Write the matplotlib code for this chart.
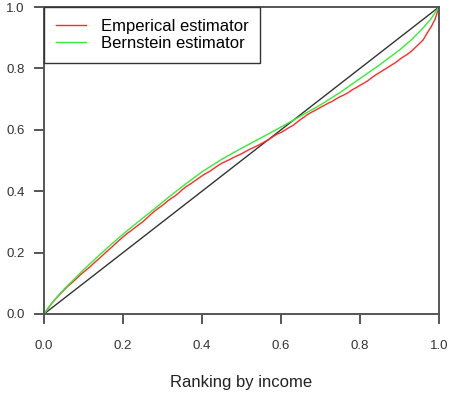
import matplotlib
matplotlib.use("Agg")
import matplotlib.pyplot as plt
import numpy as np

plt.rcParams['font.family'] = ['Liberation Sans', 'DejaVu Sans']

# empirical Lorenz-type estimator, on a 0.01 grid of rankings
emp_x = np.arange(101) / 100
emp_y = [0.000, 0.018, 0.035, 0.050, 0.064, 0.077, 0.090, 0.101, 0.113, 0.125,
         0.136, 0.147, 0.158, 0.170, 0.181, 0.193, 0.205, 0.216, 0.228, 0.240,
         0.251, 0.262, 0.271, 0.281, 0.291, 0.300, 0.312, 0.324, 0.335, 0.345,
         0.354, 0.365, 0.375, 0.383, 0.393, 0.405, 0.415, 0.423, 0.432, 0.441,
         0.450, 0.458, 0.465, 0.474, 0.483, 0.491, 0.497, 0.503, 0.510, 0.516,
         0.522, 0.529, 0.536, 0.542, 0.548, 0.555, 0.562, 0.569, 0.578, 0.586,
         0.591, 0.599, 0.607, 0.614, 0.624, 0.634, 0.643, 0.652, 0.659, 0.666,
         0.673, 0.680, 0.687, 0.693, 0.701, 0.708, 0.714, 0.721, 0.730, 0.737,
         0.745, 0.752, 0.760, 0.770, 0.779, 0.787, 0.795, 0.803, 0.811, 0.819,
         0.829, 0.838, 0.846, 0.856, 0.868, 0.880, 0.893, 0.915, 0.935, 0.960,
         1.000]

# smooth Bernstein estimator
bern_x = [0.00, 0.02, 0.04, 0.06, 0.08, 0.10, 0.12, 0.16, 0.20, 0.24, 0.28,
          0.32, 0.36, 0.40, 0.45, 0.50, 0.55, 0.60, 0.65, 0.70, 0.75, 0.80,
          0.85, 0.90, 0.93, 0.96, 0.98, 1.00]
bern_y = [0.000, 0.036, 0.066, 0.093, 0.118, 0.144, 0.168, 0.215, 0.260, 0.302,
          0.343, 0.385, 0.425, 0.463, 0.504, 0.540, 0.574, 0.609, 0.645, 0.681,
          0.722, 0.767, 0.812, 0.860, 0.893, 0.932, 0.962, 1.000]

diag = [0.0, 1.0]

fig = plt.figure(figsize=(4.51, 4.01), dpi=100)
ax = fig.add_axes([44 / 451, 1 - 314 / 401, 395 / 451, 307 / 401])

ax.plot(diag, diag, color='#333333', lw=1.0)
ax.plot(emp_x, emp_y, color='#ff2a2a', lw=1.0, label='Emperical estimator')
ax.plot(bern_x, bern_y, color='#33ee33', lw=1.0, label='Bernstein estimator')

ax.set_xlim(0, 1)
ax.set_ylim(0, 1)
ticks = [0.0, 0.2, 0.4, 0.6, 0.8, 1.0]
ax.set_xticks(ticks)
ax.set_yticks(ticks)
ax.set_xticklabels(['%.1f' % t for t in ticks])
ax.set_yticklabels(['%.1f' % t for t in ticks])

for s in ax.spines.values():
    s.set_color('#555555')
    s.set_linewidth(1.4)
ax.tick_params(axis='both', length=7, width=1.4, color='#555555',
               labelsize=9.5, labelcolor='#333333')
ax.tick_params(axis='x', pad=12)
ax.tick_params(axis='y', pad=7)

ax.set_xlabel('Ranking by income', fontsize=12, color='#222222', labelpad=16)

leg = ax.legend(loc='upper left', fontsize=12, borderaxespad=0, fancybox=False,
                framealpha=1, edgecolor='#333333', handlelength=1.8,
                handletextpad=0.9, borderpad=0.7, labelspacing=0.15)
leg.get_frame().set_linewidth(1.0)

fig.savefig('out.png', dpi=100)
